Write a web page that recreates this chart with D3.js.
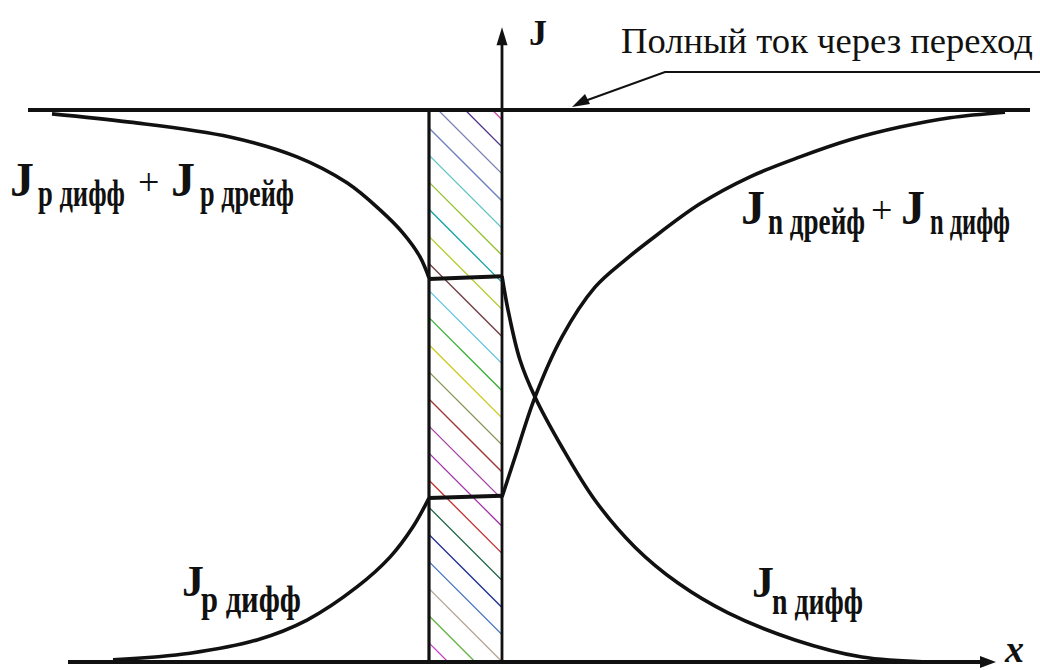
<!DOCTYPE html>
<html>
<head>
<meta charset="utf-8">
<script src="https://cdn.jsdelivr.net/npm/d3@7"></script>
<style>
  html, body { margin: 0; padding: 0; background: #fff; }
  svg { display: block; }
  text { font-family: "Liberation Serif", "DejaVu Serif", "Times New Roman", serif; fill: #111; }
</style>
</head>
<body>
<svg id="chart" width="1040" height="670"></svg>
<script>
// Current density across a p-n junction (J against coordinate x).
// x is in arbitrary length units (x = 0 on the J axis), J as a fraction of the full current.

// Full current through the junction
const fullJ = 1;
const fullX = [-47.4, 52.8];

// Depletion region (hatched band)
const bandX = [-7.3, 0];

// J_p diff + J_p drift (left side, upper)
const pTotalX = [-45, -37.2, -27.2, -20.5, -15.5, -12.2, -9.9, -8.2, -7.3];
const pTotalJ = [0.993, 0.978, 0.951, 0.915, 0.868, 0.819, 0.777, 0.734, 0.696];

// J_p diff (left side, lower)
const pDiffX = [-38.9, -31.2, -24.5, -19.5, -14.5, -11.2, -8.9, -7.3];
const pDiffJ = [0.004, 0.016, 0.040, 0.076, 0.136, 0.190, 0.245, 0.297];

// Levels carried across the band
const upperStepJ = [0.694, 0.699];
const lowerStepJ = [0.297, 0.301];

// J_n diff (right side, falling)
const nDiffX = [0, 0.6, 1.8, 3.3, 6.0, 9.3, 13.3, 17.6, 22.6, 29.3, 36.0, 42.6];
const nDiffJ = [0.699, 0.638, 0.547, 0.480, 0.389, 0.293, 0.208, 0.143, 0.089, 0.040, 0.009, 0.0];

// J_n drift + J_n diff (right side, rising)
const nTotalX = [0, 1.3, 3.3, 6.0, 9.3, 12.3, 14.8, 19.8, 24.8, 29.8, 34.8, 39.8, 44.8, 50.3];
const nTotalJ = [0.299, 0.371, 0.480, 0.589, 0.679, 0.728, 0.764, 0.830, 0.879, 0.915, 0.946, 0.969, 0.986, 0.996];

// Axis extents
const xAxisExtent = [-43.4, 49.4];
const yAxisExtent = [0, 1.15];

// Hatch colours inside the band, top to bottom
const hatchColors = [
  "#d04aa8", "#4b2f8c", "#7b7fb2", "#6f7fc2", "#5cc2c2", "#92c232",
  "#14a2a2", "#b2ca22", "#6e3e44", "#62c2e2", "#34b034", "#caca22",
  "#829252", "#a23434", "#a444a4", "#a232a8", "#c23232", "#12603e",
  "#22328e", "#4272c2", "#b2a292", "#62b242", "#c242c2"
];

const svg = d3.select("#chart");
const x = d3.scaleLinear().domain([-48, 54]).range([22, 1042]);
const y = d3.scaleLinear().domain([0, 1]).range([662, 110]);

// ---- hatched band ----
const bx0 = x(bandX[0]), bx1 = x(bandX[1]);
const by0 = y(fullJ) + 2, by1 = y(0);
svg.append("clipPath").attr("id", "bandClip")
  .append("rect").attr("x", bx0).attr("y", by0).attr("width", bx1 - bx0).attr("height", by1 - by0);
const hatch = svg.append("g").attr("clip-path", "url(#bandClip)");
const step = 27.1, firstLeft = by0 + 16 - 3 * step, bw = bx1 - bx0;
hatchColors.forEach((c, i) => {
  const yl = firstLeft + i * step;
  hatch.append("line")
    .attr("x1", bx0).attr("y1", yl)
    .attr("x2", bx1).attr("y2", yl + bw)
    .attr("stroke", c).attr("stroke-width", 1.3);
});
svg.append("line").attr("x1", bx0).attr("x2", bx0).attr("y1", by0).attr("y2", by1)
  .attr("stroke", "#111").attr("stroke-width", 3.2);

// ---- axes ----
const ax = svg.append("g").attr("stroke", "#111");
ax.append("line")
  .attr("x1", x(xAxisExtent[0])).attr("x2", x(xAxisExtent[1]) - 10)
  .attr("y1", y(0)).attr("y2", y(0)).attr("stroke-width", 4);
const xt = x(xAxisExtent[1]);
svg.append("path").attr("d", `M${xt},${y(0)} L${xt - 16},${y(0) - 6} L${xt - 16},${y(0) + 6} Z`).attr("fill", "#111");

ax.append("line")
  .attr("x1", x(0)).attr("x2", x(0))
  .attr("y1", y(0)).attr("y2", y(yAxisExtent[1]) + 12).attr("stroke-width", 2.8);
const yt = y(yAxisExtent[1]);
svg.append("path").attr("d", `M${x(0)},${yt} L${x(0) - 5.5},${yt + 18} L${x(0) + 5.5},${yt + 18} Z`).attr("fill", "#111");

// ---- full current line ----
svg.append("line")
  .attr("x1", x(fullX[0])).attr("x2", x(fullX[1]))
  .attr("y1", y(fullJ)).attr("y2", y(fullJ))
  .attr("stroke", "#111").attr("stroke-width", 4);

// ---- curves ----
const line = d3.line().x(d => x(d[0])).y(d => y(d[1])).curve(d3.curveCatmullRom.alpha(0.5));
const curves = [
  d3.zip(pTotalX, pTotalJ),
  d3.zip(pDiffX, pDiffJ),
  d3.zip(nDiffX, nDiffJ),
  d3.zip(nTotalX, nTotalJ)
];
svg.append("g").selectAll("path").data(curves).join("path")
  .attr("d", line).attr("fill", "none").attr("stroke", "#111")
  .attr("stroke-width", 3.6).attr("stroke-linejoin", "round");

// steps across the band
[upperStepJ, lowerStepJ].forEach(s => {
  svg.append("line")
    .attr("x1", x(bandX[0])).attr("x2", x(bandX[1]))
    .attr("y1", y(s[0])).attr("y2", y(s[1]))
    .attr("stroke", "#111").attr("stroke-width", 4);
});

// ---- labels ----
// Text pieces; a target width condenses the piece horizontally via a scale transform.
function part(px, py, str, size, width, opts = {}) {
  const t = svg.append("text").attr("x", 0).attr("y", 0)
    .attr("font-size", size).attr("font-weight", opts.weight || "bold")
    .attr("font-style", opts.style || "normal").text(str);
  const sx = width ? width / t.node().getComputedTextLength() : 1;
  t.attr("transform", `translate(${px},${py}) scale(${sx},1)`);
  return t;
}

// J_p diff + J_p drift
part(10, 196, "J", 48);
part(38, 206, "p дифф", 38, 87);
part(138, 195, "+", 38, null, { weight: "normal" });
part(171, 196, "J", 48);
part(200, 206, "p дрейф", 38, 94);

// J_n drift + J_n diff
part(741, 224, "J", 48);
part(768, 234, "n дрейф", 38, 97);
part(871, 223, "+", 38, null, { weight: "normal" });
part(901, 224, "J", 48);
part(930, 234, "n дифф", 38, 80);

// J_p diff
part(182, 596, "J", 44);
part(201, 612, "p дифф", 38, 100);

// J_n diff
part(752, 597, "J", 44);
part(772, 614, "n дифф", 38, 91);

// axis names
part(529, 45, "J", 36);
part(1005, 662, "x", 38, null, { style: "italic" });

// full current caption with leader
part(621, 53, "Полный ток через переход", 36, 412, { weight: "normal" });
const tip = [572, y(fullJ) - 3];
svg.append("polyline")
  .attr("points", `1040,72 665,72 ${tip[0] + 10},${tip[1] - 5}`)
  .attr("fill", "none").attr("stroke", "#111").attr("stroke-width", 2);
svg.append("path")
  .attr("d", `M${tip[0]},${tip[1]} L${tip[0] + 13},${tip[1] - 13} L${tip[0] + 18},${tip[1] - 3} Z`)
  .attr("fill", "#111");
</script>
</body>
</html>
